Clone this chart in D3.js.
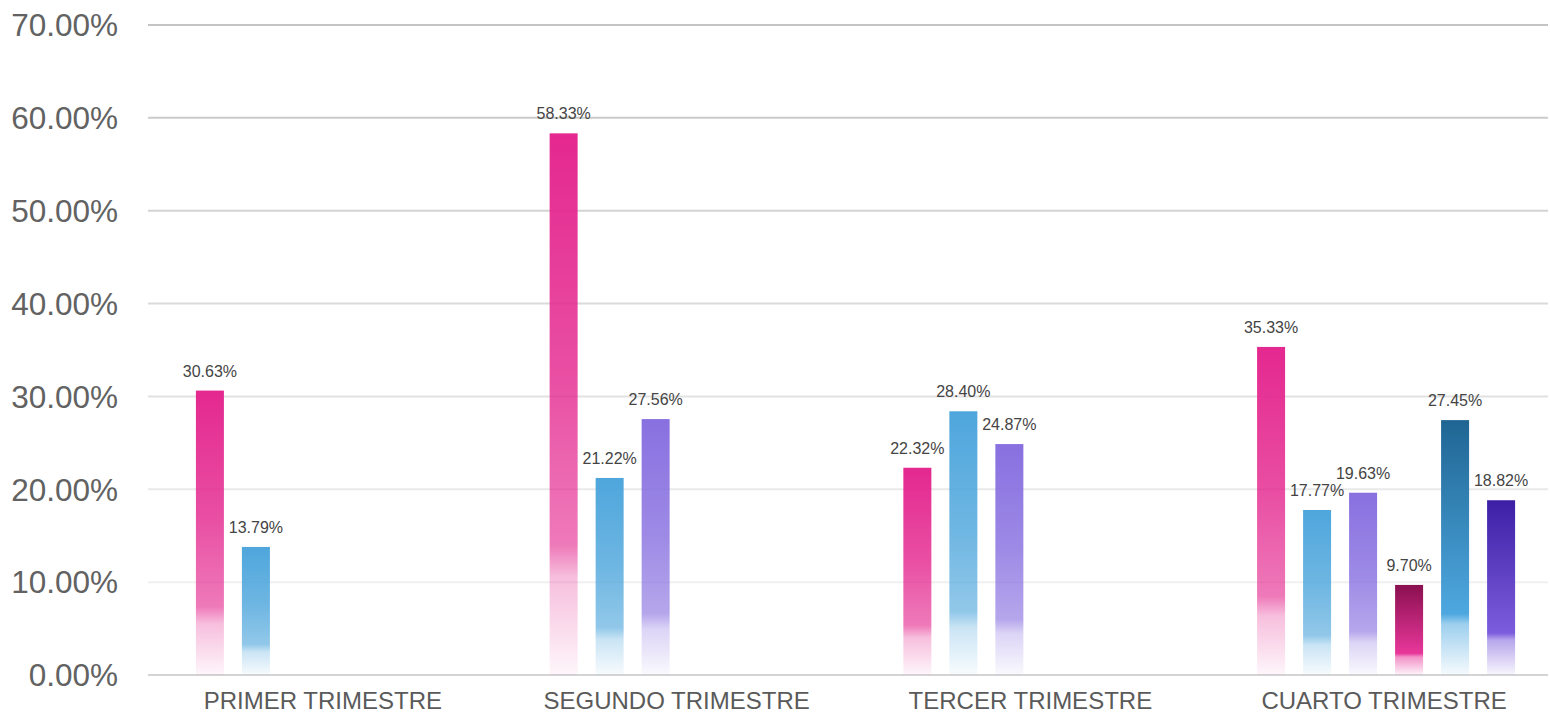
<!DOCTYPE html>
<html>
<head>
<meta charset="utf-8">
<script src="https://cdn.jsdelivr.net/npm/d3@7"></script>
<style>
  html, body { margin: 0; padding: 0; background: #fff; }
  svg { display: block; font-family: "Liberation Sans", Arial, sans-serif; }
</style>
</head>
<body>
<svg id="chart"></svg>
<script>
const categories = ['PRIMER TRIMESTRE', 'SEGUNDO TRIMESTRE', 'TERCER TRIMESTRE', 'CUARTO TRIMESTRE'];
const yTicks = [0, 10, 20, 30, 40, 50, 60, 70];

// one array per series, value per quarter (null = no bar)
const serie1 = [30.63, 58.33, 22.32, 35.33];
const serie2 = [13.79, 21.22, 28.40, 17.77];
const serie3 = [null, 27.56, 24.87, 19.63];
const serie4 = [null, null, null, 9.70];
const serie5 = [null, null, null, 27.45];
const serie6 = [null, null, null, 18.82];

(function () {
  const W = 1550, H = 715;
  const series = [
    { key: 's1', values: serie1, top: '#e4288f', mid: '#e4288f', dark: false },
    { key: 's2', values: serie2, top: '#4ea6dc', mid: '#4ea6dc', dark: false },
    { key: 's3', values: serie3, top: '#8870e0', mid: '#8870e0', dark: false },
    { key: 's4', values: serie4, top: '#8a1050', mid: '#e8379a', dark: true },
    { key: 's5', values: serie5, top: '#1f6593', mid: '#4ea8e0', dark: true },
    { key: 's6', values: serie6, top: '#3c1fa5', mid: '#7c5ddc', dark: true }
  ];

  const svg = d3.select('#chart').attr('width', W).attr('height', H);

  const y = d3.scaleLinear().domain([0, 70]).range([675, 25]);

  const x0 = d3.scaleBand().domain(categories)
    .range([148, 1563]).paddingInner(0.2197).paddingOuter(0.11);
  const x1 = d3.scaleBand().domain(series.map(s => s.key))
    .range([0, x0.bandwidth()]).paddingInner(18 / 46).paddingOuter(9 / 46);

  // vertical gradients, fading to white near the base
  const defs = svg.append('defs');
  series.forEach(s => {
    const g = defs.append('linearGradient')
      .attr('id', 'grad-' + s.key)
      .attr('x1', 0).attr('y1', 0).attr('x2', 0).attr('y2', 1);
    const stops = s.dark
      ? [[0, s.top, 1], [0.76, s.mid, 1], [0.8, s.mid, 0.55], [1, s.mid, 0.05]]
      : [[0, s.top, 1], [0.45, s.mid, 0.82], [0.76, s.mid, 0.62], [0.82, s.mid, 0.3], [1, s.mid, 0.04]];
    stops.forEach(([o, c, a]) => {
      g.append('stop').attr('offset', o).attr('stop-color', c).attr('stop-opacity', a);
    });
  });

  // grid lines, darker towards the top
  const gridColor = d3.scaleLinear().domain([10, 70]).range(['#f0f0f0', '#c4c4c4']);
  svg.append('g').selectAll('line')
    .data(yTicks)
    .join('line')
    .attr('x1', 148).attr('x2', 1548)
    .attr('y1', d => y(d)).attr('y2', d => y(d))
    .attr('stroke', d => d === 0 ? '#d4d4d4' : gridColor(d))
    .attr('stroke-width', 2);

  svg.append('g').selectAll('text')
    .data(yTicks)
    .join('text')
    .attr('x', 118)
    .attr('y', d => y(d))
    .attr('dy', '0.36em')
    .attr('text-anchor', 'end')
    .attr('fill', '#626262')
    .attr('font-size', '31.5px')
    .text(d => d3.format('.2f')(d) + '%');

  svg.append('g').selectAll('text')
    .data(categories)
    .join('text')
    .attr('x', d => x0(d) + x0.bandwidth() / 2 - 2)
    .attr('y', 709)
    .attr('text-anchor', 'middle')
    .attr('fill', '#5a5a5a')
    .attr('font-size', '24px')
    .text(d => d);

  const bars = [];
  series.forEach(s => {
    s.values.forEach((v, i) => {
      if (v != null) bars.push({ cat: categories[i], key: s.key, value: v });
    });
  });

  const barX = d => x0(d.cat) + x1(d.key);

  svg.append('g').selectAll('rect')
    .data(bars)
    .join('rect')
    .attr('x', barX)
    .attr('y', d => y(d.value))
    .attr('width', x1.bandwidth())
    .attr('height', d => y(0) - y(d.value))
    .attr('fill', d => `url(#grad-${d.key})`);

  svg.append('g').selectAll('text')
    .data(bars)
    .join('text')
    .attr('x', d => barX(d) + x1.bandwidth() / 2)
    .attr('y', d => y(d.value) - 14)
    .attr('text-anchor', 'middle')
    .attr('fill', '#444')
    .attr('font-size', '16px')
    .text(d => d3.format('.2f')(d.value) + '%');
})();
</script>
</body>
</html>
